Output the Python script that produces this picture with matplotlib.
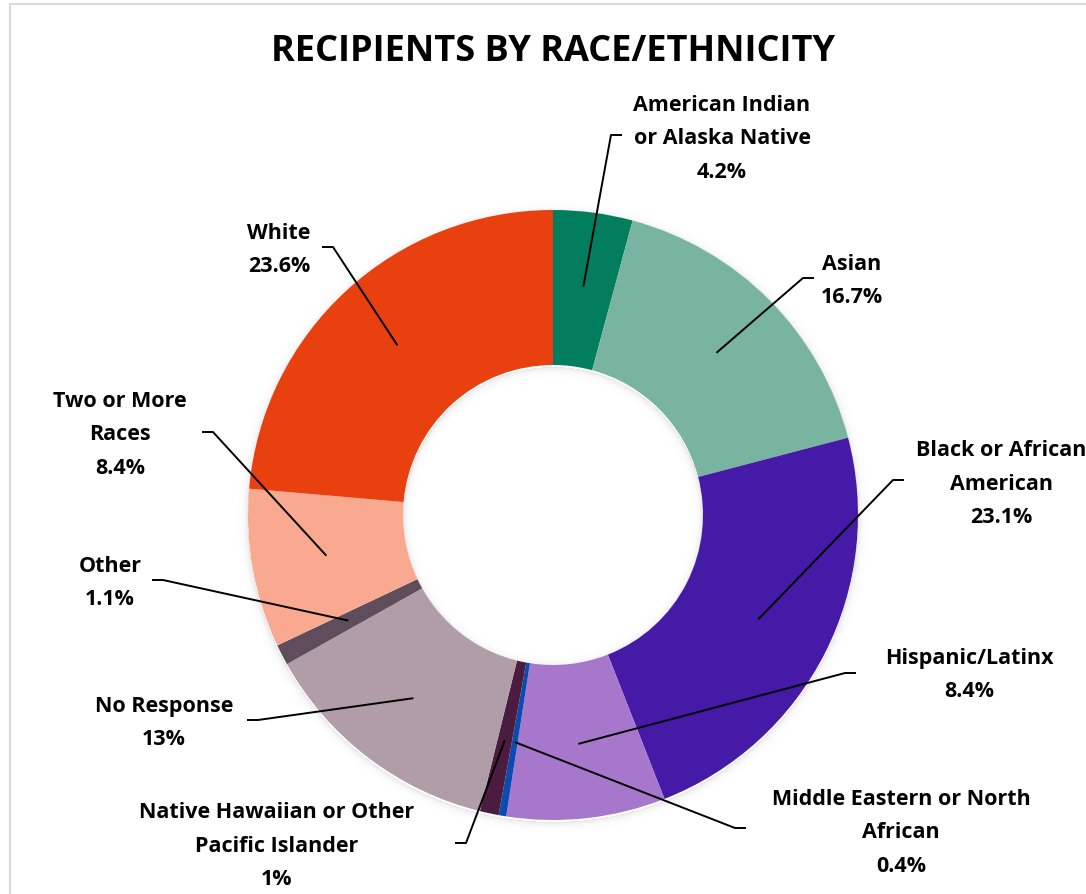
import matplotlib
matplotlib.use("Agg")
import matplotlib.pyplot as plt
import numpy as np

# ---- data -------------------------------------------------------------
categories = [
    "American Indian\nor Alaska Native",
    "Asian",
    "Black or African\nAmerican",
    "Hispanic/Latinx",
    "Middle Eastern or North\nAfrican",
    "Native Hawaiian or Other\nPacific Islander",
    "No Response",
    "Other",
    "Two or More\nRaces",
    "White",
]
shares = [4.2, 16.7, 23.1, 8.4, 0.4, 1.0, 13.0, 1.1, 8.4, 23.6]
value_labels = ["4.2%", "16.7%", "23.1%", "8.4%", "0.4%", "1%", "13%", "1.1%", "8.4%", "23.6%"]
colors = [
    "#027E5E", "#79B4A1", "#441AA7", "#A777CB", "#0B4BAF",
    "#4B1C3F", "#B09DA7", "#5F4D5C", "#F8A98F", "#E8400E",
]

# ---- layout (pixel space, y measured from the top) ----------------------
W, H = 1086, 894
CX, CY = 553, 515
R_OUT, R_IN = 305, 150
text_pos = [(722, 139), (852, 281), (1001, 484), (969, 675), (901, 833),
            (277, 846), (164, 723), (110, 583), (120, 435), (279, 250)]
elbows = [(611, 135), (803, 278), (893, 480), (845, 673), (735, 828),
          (466, 843), (258, 720), (163, 580), (213, 432), (333, 247)]
tick_dir = [1, 1, 1, 1, 1, -1, -1, -1, -1, -1]
TICK = 11

plt.rcParams["font.family"] = ["Open Sans", "DejaVu Sans"]

fig = plt.figure(figsize=(W / 100, H / 100), dpi=100)
ax = fig.add_axes([0, 0, 1, 1])


def fy(y):
    return H - y


# soft shadow around the ring
xs = np.arange(0, W) + 0.5
ys = np.arange(0, H) + 0.5
gx, gy = np.meshgrid(xs, ys)
d = np.hypot(gx - CX, gy - (CY + 2))
alpha = np.zeros_like(d)
outer = d > R_OUT
alpha[outer] = 0.16 * np.exp(-(d[outer] - R_OUT) / 3.0)
inner = d < R_IN
alpha[inner] = 0.16 * np.exp(-(R_IN - d[inner]) / 3.0)
shadow = np.zeros((H, W, 4))
shadow[..., :3] = 0.35
shadow[..., 3] = alpha
ax.imshow(shadow, extent=(0, W, 0, H), origin="upper", zorder=0,
          interpolation="bilinear")

wedges, _ = ax.pie(
    shares, colors=colors, startangle=90, counterclock=False,
    radius=R_OUT, center=(CX, fy(CY)),
    wedgeprops=dict(width=R_OUT - R_IN, linewidth=0),
)
ax.set_xlim(0, W)
ax.set_ylim(0, H)
ax.set_aspect("equal")
ax.axis("off")

# leader lines and labels
for i, w in enumerate(wedges):
    mid = np.deg2rad((w.theta1 + w.theta2) / 2)
    ax_x = CX + 0.755 * R_OUT * np.cos(mid)
    ax_y = fy(CY) + 0.755 * R_OUT * np.sin(mid)
    ex, ey = elbows[i]
    ax.plot([ax_x, ex, ex + tick_dir[i] * TICK], [ax_y, fy(ey), fy(ey)],
            color="black", lw=1.4, solid_capstyle="butt", zorder=5)
    tx, ty = text_pos[i]
    ax.text(tx, fy(ty), f"{categories[i]}\n{value_labels[i]}",
            ha="center", va="center", multialignment="center",
            fontsize=15.5, fontweight="bold", linespacing=1.76, color="black",
            zorder=6)

ax.text(553, fy(52), "RECIPIENTS BY RACE/ETHNICITY", ha="center", va="center",
        fontsize=26, fontweight="bold", color="black")

# chart frame
ax.plot([10, 10, W + 5], [-5, fy(4), fy(4)], color="#D9D9D9", lw=1.5,
        clip_on=False, zorder=1)

fig.savefig("out.png", dpi=100)
